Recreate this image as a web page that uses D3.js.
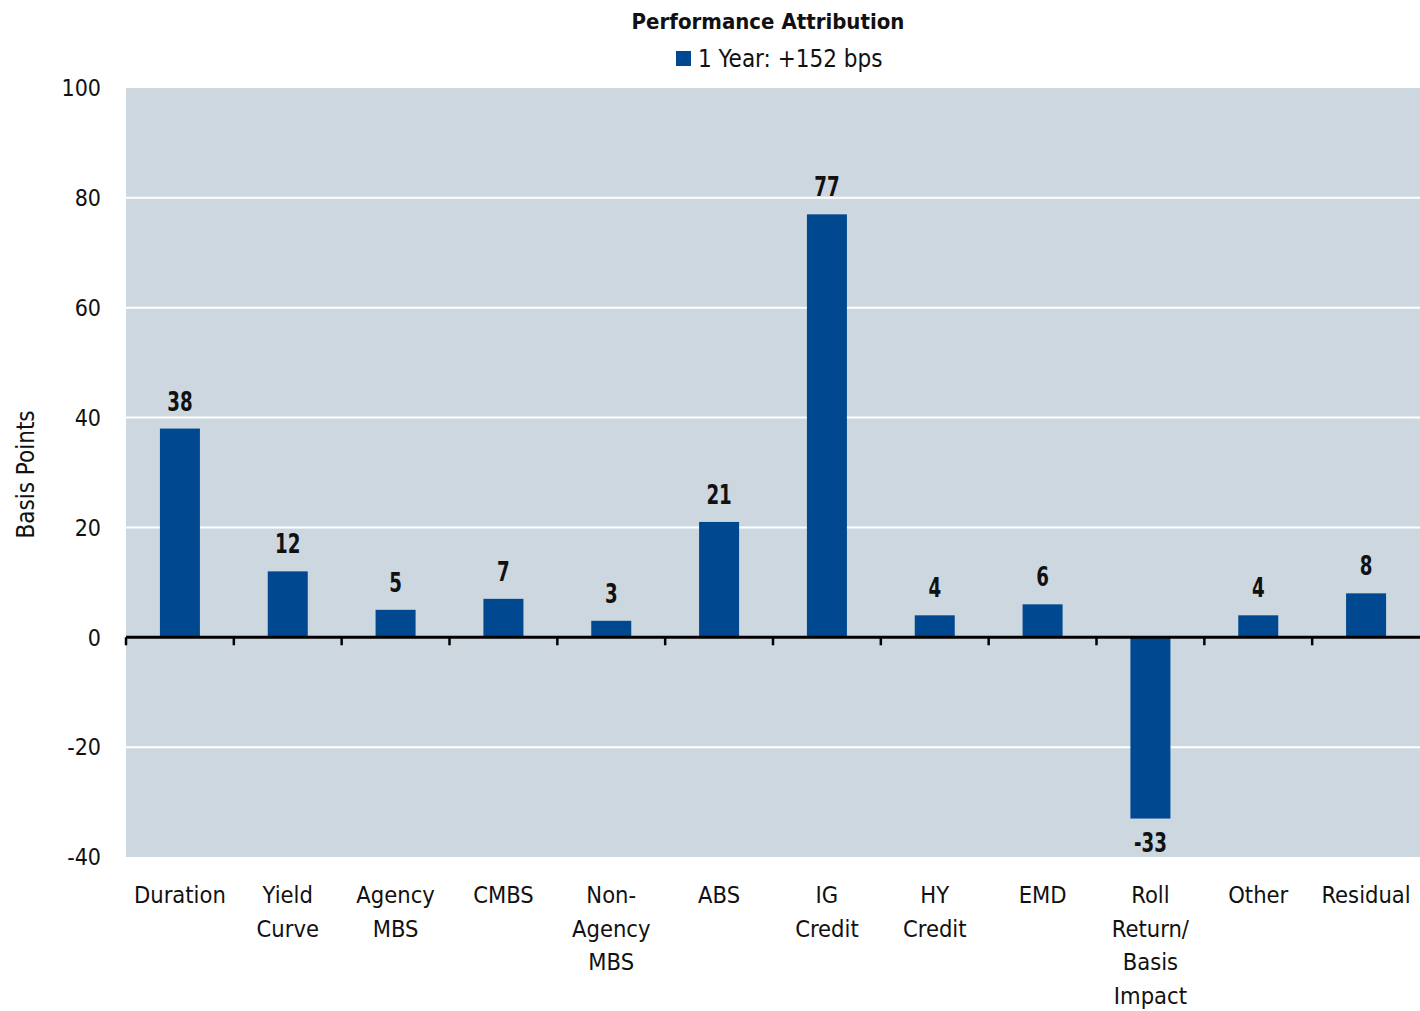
<!DOCTYPE html>
<html>
<head>
<meta charset="utf-8">
<script src="https://cdn.jsdelivr.net/npm/d3@7"></script>
<style>
  html, body { margin: 0; padding: 0; background: #fff; }
  svg { display: block; }
  text { font-family: "DejaVu Sans Condensed", "Liberation Sans", sans-serif; font-stretch: condensed; fill: #111; }
</style>
</head>
<body>
<svg id="chart" width="1420" height="1011"></svg>
<script>
// Performance attribution by sector, basis points
const categories = [
  ["Duration"], ["Yield", "Curve"], ["Agency", "MBS"], ["CMBS"],
  ["Non-", "Agency", "MBS"], ["ABS"], ["IG", "Credit"], ["HY", "Credit"],
  ["EMD"], ["Roll", "Return/", "Basis", "Impact"], ["Other"], ["Residual"]
];
const values = [38, 12, 5, 7, 3, 21, 77, 4, 6, -33, 4, 8];
const yTicks = [-40, -20, 0, 20, 40, 60, 80, 100];
const titleText = "Performance Attribution";
const seriesName = "1 Year: +152 bps";

const svg = d3.select("#chart");
const margin = { left: 126, right: 1420, top: 88, bottom: 857 };
const barColor = "#004990";
const plotBg = "#cdd7e0";

const keys = categories.map((c, i) => i);
const x = d3.scaleBand().domain(keys).range([margin.left, margin.right]).paddingInner(0).paddingOuter(0);
const y = d3.scaleLinear().domain([-40, 100]).range([margin.bottom, margin.top]);
const barW = 40;

// plot background
svg.append("rect")
  .attr("x", margin.left).attr("y", margin.top)
  .attr("width", margin.right - margin.left).attr("height", margin.bottom - margin.top)
  .attr("fill", plotBg);

// horizontal gridlines
svg.append("g").selectAll("line")
  .data(yTicks.filter(t => t !== 0 && t !== 100 && t !== -40))
  .join("line")
  .attr("x1", margin.left).attr("x2", margin.right)
  .attr("y1", d => y(d)).attr("y2", d => y(d))
  .attr("stroke", "#ffffff").attr("stroke-width", 2);

// y tick labels
svg.append("g").selectAll("text")
  .data(yTicks)
  .join("text")
  .attr("x", 101).attr("y", d => y(d))
  .attr("dy", "0.36em")
  .attr("text-anchor", "end")
  .style("font-size", "23px")
  .text(d => d);

// y axis title
svg.append("text")
  .attr("transform", `translate(34, ${(margin.top + margin.bottom) / 2 + 2}) rotate(-90)`)
  .attr("text-anchor", "middle")
  .style("font-size", "24px")
  .text("Basis Points");

// bars
svg.append("g").selectAll("rect")
  .data(values)
  .join("rect")
  .attr("x", (d, i) => x(i) + x.bandwidth() / 2 - barW / 2)
  .attr("width", barW)
  .attr("y", d => y(Math.max(0, d)))
  .attr("height", d => Math.abs(y(d) - y(0)))
  .attr("fill", barColor);

// zero axis with ticks
const axis = d3.axisBottom(x).tickSize(6).tickFormat("");
const axisG = svg.append("g").attr("transform", `translate(0, ${y(0)})`).call(axis);
axisG.select(".domain").remove();
axisG.selectAll(".tick").attr("transform", (d) => `translate(${x(d)},0)`);
axisG.selectAll(".tick line").attr("stroke", "#000").attr("stroke-width", 2.5).attr("y1", 0).attr("y2", 8);
axisG.append("line")
  .attr("x1", margin.left).attr("x2", margin.right)
  .attr("y1", 0).attr("y2", 0)
  .attr("stroke", "#000").attr("stroke-width", 3);

// value labels (tall, narrow digits)
svg.append("g").selectAll("text")
  .data(values)
  .join("text")
  .attr("transform", (d, i) => {
    const cx = x(i) + x.bandwidth() / 2;
    const cy = d >= 0 ? y(d) - 18 : y(d) + 33;
    return `translate(${cx},${cy}) scale(0.78,1)`;
  })
  .attr("text-anchor", "middle")
  .style("font-size", "26px")
  .style("font-weight", "bold")
  .text(d => d);

// category labels
const catG = svg.append("g").selectAll("text")
  .data(categories)
  .join("text")
  .attr("x", (d, i) => x(i) + x.bandwidth() / 2)
  .attr("y", 903)
  .attr("text-anchor", "middle")
  .style("font-size", "23.5px");
catG.selectAll("tspan")
  .data(d => d)
  .join("tspan")
  .attr("x", function () { return d3.select(this.parentNode).attr("x"); })
  .attr("dy", (d, i) => i === 0 ? 0 : 33.7)
  .text(d => d);

// title
svg.append("text")
  .attr("x", 768).attr("y", 29)
  .attr("text-anchor", "middle")
  .style("font-size", "22px")
  .style("font-weight", "bold")
  .text(titleText);

// legend
svg.append("rect")
  .attr("x", 676).attr("y", 51).attr("width", 15).attr("height", 15)
  .attr("fill", barColor);
svg.append("text")
  .attr("x", 698).attr("y", 58)
  .attr("dy", "0.36em")
  .style("font-size", "24px")
  .text(seriesName);
</script>
</body>
</html>
